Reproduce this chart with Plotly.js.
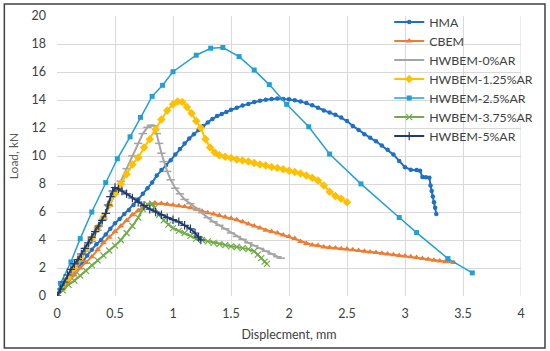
<!DOCTYPE html>
<html>
<head>
<meta charset="utf-8">
<script src="https://cdn.plot.ly/plotly-3.0.1.min.js"></script>
<style>html,body{margin:0;padding:0;background:#fff;}#chart{width:550px;height:351px;}</style>
</head>
<body>
<div id="chart"></div>
<script>
// HMA
const hmaX = [0,0.03,0.06,0.1,0.14,0.18,0.22,0.26,0.3,0.34,0.38,0.42,0.46,0.5,0.54,0.58,0.62,0.66,0.7,0.74,0.78,0.82,0.86,0.9,0.94,0.98,1.02,1.06,1.1,1.14,1.18,1.22,1.26,1.3,1.34,1.38,1.42,1.46,1.5,1.55,1.6,1.65,1.7,1.75,1.8,1.85,1.9,1.95,2.0,2.05,2.1,2.15,2.2,2.25,2.3,2.35,2.4,2.45,2.5,2.55,2.6,2.65,2.7,2.75,2.8,2.85,2.9,2.95,3.0,3.05,3.1,3.13,3.15,3.18,3.21,3.22,3.23,3.24,3.25,3.26,3.27];
const hmaY = [0,0.4,0.8,1.2,1.6,2.0,2.4,2.9,3.3,3.7,4.0,4.4,4.8,5.2,5.5,5.85,6.15,6.5,6.9,7.3,7.7,8.1,8.6,9.0,9.35,9.7,10.1,10.5,10.9,11.25,11.55,11.85,12.15,12.4,12.65,12.85,13.0,13.15,13.3,13.45,13.6,13.72,13.85,13.95,14.02,14.07,14.1,14.08,14.05,13.98,13.9,13.78,13.62,13.45,13.25,13.1,12.95,12.75,12.5,12.15,11.85,11.55,11.3,11.05,10.75,10.45,10.1,9.65,9.2,9.02,9.0,8.95,8.5,8.48,8.45,7.9,7.5,7.1,6.7,6.3,5.85];
// CBEM
const cbemX = [0,0.05,0.1,0.15,0.2,0.25,0.3,0.35,0.4,0.45,0.5,0.55,0.6,0.65,0.7,0.75,0.8,0.85,0.9,0.95,1.0,1.05,1.1,1.15,1.2,1.25,1.3,1.35,1.4,1.45,1.5,1.55,1.6,1.65,1.7,1.75,1.8,1.85,1.9,1.95,2.0,2.05,2.1,2.15,2.2,2.25,2.3,2.35,2.4,2.45,2.5,2.55,2.6,2.65,2.7,2.75,2.8,2.85,2.9,2.95,3.0,3.05,3.1,3.15,3.2,3.25,3.3,3.35,3.42];
const cbemY = [0,0.5,1.0,1.5,2.0,2.4,2.8,3.3,3.8,4.2,4.6,5.0,5.4,5.8,6.1,6.4,6.55,6.6,6.6,6.55,6.5,6.45,6.4,6.3,6.2,6.05,5.95,5.85,5.75,5.65,5.55,5.45,5.3,5.15,5.0,4.85,4.7,4.6,4.5,4.35,4.25,4.1,3.9,3.75,3.65,3.6,3.5,3.46,3.42,3.38,3.35,3.3,3.25,3.2,3.15,3.1,3.05,3.0,2.95,2.9,2.85,2.8,2.75,2.68,2.62,2.56,2.5,2.45,2.4];
// HWBEM-0%AR
const ar0X = [0,0.05,0.1,0.15,0.2,0.25,0.3,0.35,0.4,0.45,0.5,0.55,0.6,0.65,0.7,0.74,0.78,0.81,0.84,0.86,0.88,0.9,0.92,0.95,0.98,1.02,1.06,1.1,1.15,1.2,1.25,1.3,1.35,1.4,1.45,1.5,1.55,1.6,1.65,1.7,1.75,1.8,1.85,1.9,1.93];
const ar0Y = [0,0.6,1.2,1.8,2.5,3.2,3.9,4.7,5.5,6.4,7.3,8.2,9.1,10.0,10.9,11.6,12.05,12.2,12.15,11.6,10.9,10.2,9.6,8.9,8.3,7.7,7.3,6.9,6.6,6.25,5.95,5.6,5.3,5.05,4.8,4.5,4.25,4.05,3.8,3.6,3.4,3.2,3.0,2.8,2.7];
// HWBEM-1.25%AR
const ar125X = [0,0.05,0.1,0.15,0.2,0.25,0.3,0.35,0.4,0.45,0.5,0.55,0.6,0.65,0.7,0.75,0.8,0.85,0.9,0.95,1.0,1.04,1.08,1.12,1.16,1.2,1.24,1.28,1.32,1.36,1.4,1.45,1.5,1.55,1.6,1.65,1.7,1.75,1.8,1.85,1.9,1.95,2.0,2.05,2.1,2.15,2.2,2.25,2.3,2.35,2.4,2.45,2.5];
const ar125Y = [0,0.6,1.3,2.0,2.7,3.4,4.1,4.9,5.65,6.5,7.3,8.0,8.7,9.4,9.9,10.6,11.2,11.9,12.6,13.25,13.7,13.9,13.85,13.5,13.05,12.5,12.0,11.2,10.6,10.25,10.05,9.95,9.85,9.75,9.68,9.6,9.5,9.4,9.32,9.22,9.15,9.05,8.95,8.85,8.75,8.6,8.45,8.25,7.9,7.45,7.15,6.95,6.7];
// HWBEM-2.5%AR
const ar25X = [0,0.03,0.12,0.2,0.3,0.42,0.52,0.63,0.72,0.82,0.91,1.0,1.2,1.325,1.43,1.57,1.7,1.83,1.98,2.17,2.35,2.62,2.95,3.1,3.37,3.58];
const ar25Y = [0,0.9,2.43,4.1,6.0,8.1,9.8,11.37,12.76,14.26,15.05,16.02,17.2,17.7,17.75,17.1,16.14,15.1,13.69,12.09,10.14,8.01,5.61,4.53,2.67,1.65];
// HWBEM-3.75%AR
const ar375X = [0,0.05,0.1,0.15,0.2,0.25,0.3,0.35,0.4,0.45,0.5,0.55,0.6,0.65,0.7,0.74,0.78,0.82,0.84,0.88,0.92,0.96,1.0,1.05,1.1,1.15,1.2,1.25,1.3,1.35,1.4,1.45,1.5,1.55,1.6,1.65,1.7,1.73,1.76,1.79,1.81];
const ar375Y = [0,0.4,0.8,1.1,1.45,1.8,2.2,2.55,2.9,3.25,3.6,4.0,4.5,5.0,5.6,6.2,6.55,6.6,6.3,5.8,5.4,5.1,4.85,4.65,4.5,4.3,4.1,4.0,3.9,3.8,3.7,3.63,3.55,3.5,3.42,3.35,3.2,2.95,2.7,2.45,2.3];
// HWBEM-5%AR
const ar5X = [0,0.03,0.06,0.09,0.12,0.15,0.18,0.21,0.24,0.27,0.3,0.33,0.36,0.39,0.42,0.44,0.46,0.48,0.5,0.53,0.56,0.6,0.65,0.7,0.75,0.8,0.85,0.9,0.95,1.0,1.05,1.1,1.15,1.19,1.22,1.24];
const ar5Y = [0,0.5,1.0,1.5,1.9,2.3,2.6,3.0,3.4,3.8,4.2,4.6,5.0,5.4,5.9,6.5,7.1,7.5,7.75,7.65,7.5,7.3,7.0,6.7,6.45,6.2,6.0,5.8,5.6,5.45,5.3,5.05,4.8,4.5,4.2,4.0];

const xTicks = [0,0.5,1,1.5,2,2.5,3,3.5,4];
const xTickText = ['0','0.5','1','1.5','2','2.5','3','3.5','4'];
const yTicks = [0,2,4,6,8,10,12,14,16,18,20];

function tr(name, x, y, color, symbol, size, lw, mlw) {
  return {type:'scatter', mode:'lines+markers', name:name, x:x, y:y,
    line:{color:color, width:lw},
    marker:{color:color, symbol:symbol, size:size, line:{color:color, width:mlw}}};
}

const data = [
  tr('HMA', hmaX, hmaY, '#1F6FC5', 'circle', 4.5, 2, 0),
  tr('CBEM', cbemX, cbemY, '#ED7D31', 'triangle-up', 6, 2, 0),
  tr('HWBEM-0%AR', ar0X, ar0Y, '#A5A5A5', 'line-ew-open', 6, 2, 1.5),
  tr('HWBEM-1.25%AR', ar125X, ar125Y, '#FFC000', 'diamond', 6.5, 2, 0),
  tr('HWBEM-2.5%AR', ar25X, ar25Y, '#22A0D4', 'square', 5, 1.5, 0),
  tr('HWBEM-3.75%AR', ar375X, ar375Y, '#70AD47', 'x-thin-open', 6, 2, 1.2),
  tr('HWBEM-5%AR', ar5X, ar5Y, '#203A72', 'cross-thin-open', 6, 2, 1.2)
];

const fnt = 'Lato, "Open Sans", sans-serif';
const layout = {
  width:550, height:351,
  margin:{l:57, r:29, t:16, b:55, pad:0, autoexpand:false},
  paper_bgcolor:'#ffffff', plot_bgcolor:'#ffffff',
  font:{family:fnt, size:12, color:'#595959'},
  showlegend:true,
  legend:{x:0.716, y:1.03, xanchor:'left', yanchor:'top', bgcolor:'rgba(0,0,0,0)',
    font:{family:fnt, size:12.3, color:'#404040'}, tracegroupgap:0, itemwidth:30},
  xaxis:{range:[0,4], tickvals:xTicks, ticktext:xTickText, showgrid:true, gridcolor:'#D9D9D9', gridwidth:1,
    zeroline:false, showline:false, ticks:'', ticklen:0, ticklabelstandoff:8, automargin:false,
    tickfont:{family:fnt, size:12.5, color:'#404040'},
    title:{text:'Displecment, mm', font:{family:fnt, size:12.5, color:'#404040'}, standoff:10}},
  yaxis:{range:[0,20], tickvals:yTicks, showgrid:true, gridcolor:'#D9D9D9', gridwidth:1,
    zeroline:false, showline:false, ticks:'', ticklabelstandoff:10, automargin:false,
    tickfont:{family:fnt, size:12.5, color:'#404040'},
    title:{text:'Load, kN', font:{family:fnt, size:12, color:'#595959'}, standoff:10}},
  shapes:[
    {type:'line', xref:'x', yref:'paper', x0:4, x1:4, y0:0, y1:1, line:{color:'#D9D9D9', width:1}},
    {type:'rect', xref:'paper', yref:'paper', x0:-0.1135, x1:1.0517, y0:-0.186, y1:1.043,
     line:{color:'#404040', width:1.5}, fillcolor:'rgba(0,0,0,0)'}
  ]
};

Plotly.newPlot('chart', data, layout, {displayModeBar:false, staticPlot:true});
</script>
</body>
</html>
